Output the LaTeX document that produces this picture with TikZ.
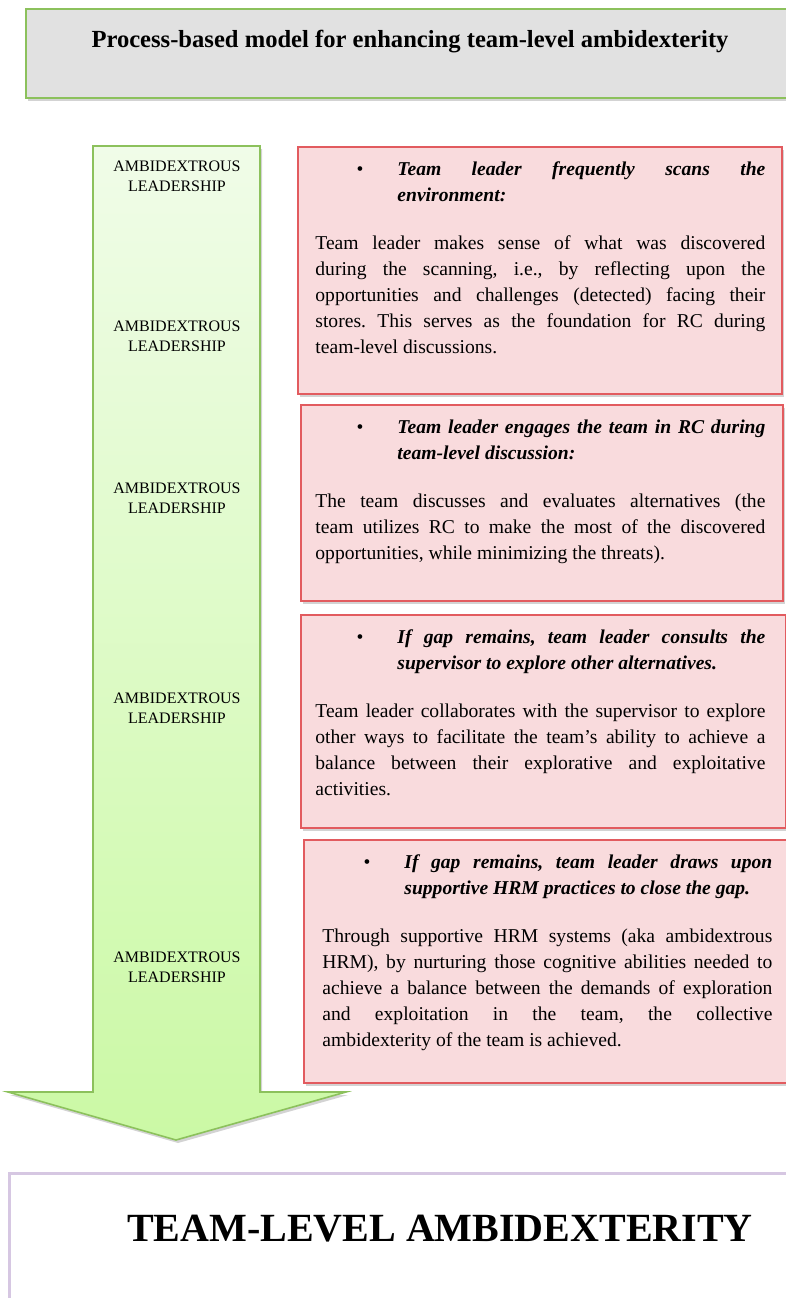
\documentclass[tikz,border=0pt]{standalone}
\usepackage{fontspec}
\setmainfont{Liberation Serif}
\usetikzlibrary{shadows,positioning}

\definecolor{titlegray}{HTML}{E1E1E1}
\definecolor{leafgreen}{HTML}{8CC15C}
\definecolor{paleshaft}{HTML}{F0FCE8}
\definecolor{deepshaft}{HTML}{CBF9A5}
\definecolor{boxred}{HTML}{E25B5F}
\definecolor{boxpink}{HTML}{F9DBDD}
\definecolor{lilac}{HTML}{D6C7E2}

\newcommand{\stephead}[1]{{\leftskip=41pt\noindent\llap{\textbullet\hskip17pt}%
    \bfseries\itshape #1\par}\vspace{11pt}\noindent\ignorespaces}

\begin{document}
\frenchspacing
\begin{tikzpicture}[
    x=0.5pt, y=-0.5pt,
    softshadow/.style={drop shadow={opacity=0.35, shadow xshift=1pt, shadow yshift=-1.5pt}},
    titlebox/.style={draw=leafgreen, line width=1pt, fill=titlegray, anchor=north west, softshadow},
    stepbox/.style={draw=boxred, line width=0.8pt, fill=boxpink, anchor=north west, softshadow},
    steptext/.style={anchor=north west, text width=225pt, align=justify, inner sep=0pt,
        font=\fontsize{9.8}{13}\selectfont},
    leadlabel/.style={align=center, inner sep=0pt, font=\fontsize{8}{10}\selectfont},
    goalbox/.style={draw=lilac, line width=1.6pt, fill=white, anchor=north west}
]
    \clip (0,0) rectangle (786,1298);
    \useasboundingbox (0,0) rectangle (786,1298);

    % Title
    \node[titlebox, minimum width=385pt, minimum height=44.5pt] (title) at (25,8) {};
    \node[font=\fontsize{12.3}{14}\selectfont\bfseries] (titletext) at (410,42)
        {Process-based model for enhancing team-level ambidexterity};

    % Big arrow
    \path[draw=leafgreen, line width=0.8pt, top color=paleshaft, bottom color=deepshaft, softshadow]
        (93,146) -- (260,146) -- (260,1092) -- (346,1092) -- (176,1140)
        -- (8,1092) -- (93,1092) -- cycle;
    \foreach \y [count=\i] in {176,336,498,708,967}
        \node[leadlabel] (lead\i) at (177,\y) {AMBIDEXTROUS\\LEADERSHIP};

    % Step 1
    \node[stepbox, minimum width=242pt, minimum height=123.5pt] (step1) at (297,146) {};
    \node[steptext] (text1) at ([shift={(18,15)}]step1.north west) {%
        \stephead{Team leader frequently scans the\linebreak environment:}
        Team leader makes sense of what was discovered\linebreak during the scanning, i.e., by reflecting upon the\linebreak opportunities and challenges (detected) facing their\linebreak stores. This serves as the foundation for RC during\linebreak team-level discussions.};

    % Step 2
    \node[stepbox, minimum width=241pt, minimum height=98pt] (step2) at (300,404) {};
    \node[steptext] (text2) at ([shift={(15,15)}]step2.north west) {%
        \stephead{Team leader engages the team in RC during\linebreak team-level discussion:}
        The team discusses and evaluates alternatives (the\linebreak team utilizes RC to make the most of the discovered\linebreak opportunities, while minimizing the threats).};

    % Step 3
    \node[stepbox, minimum width=242.5pt, minimum height=106.5pt] (step3) at (300,614) {};
    \node[steptext] (text3) at ([shift={(15,15)}]step3.north west) {%
        \stephead{If gap remains, team leader consults the\linebreak supervisor to explore other alternatives.}
        Team leader collaborates with the supervisor to explore\linebreak other ways to facilitate the team's ability to achieve a\linebreak balance between their explorative and exploitative\linebreak activities.};

    % Step 4
    \node[stepbox, minimum width=242pt, minimum height=121.5pt] (step4) at (303,839) {};
    \node[steptext] (text4) at ([shift={(19,15)}]step4.north west) {%
        \stephead{If gap remains, team leader draws upon\linebreak supportive HRM practices to close the gap.}
        Through supportive HRM systems (aka ambidextrous\linebreak HRM), by nurturing those cognitive abilities needed to\linebreak achieve a balance between the demands of exploration\linebreak and exploitation in the team, the collective\linebreak ambidexterity of the team is achieved.};

    % Outcome
    \node[goalbox, minimum width=400pt, minimum height=70pt] (goal) at (8,1172) {};
    \node[font=\fontsize{20}{22}\selectfont\bfseries] (goaltext) at (440,1229) {TEAM-LEVEL AMBIDEXTERITY};
\end{tikzpicture}
\end{document}
